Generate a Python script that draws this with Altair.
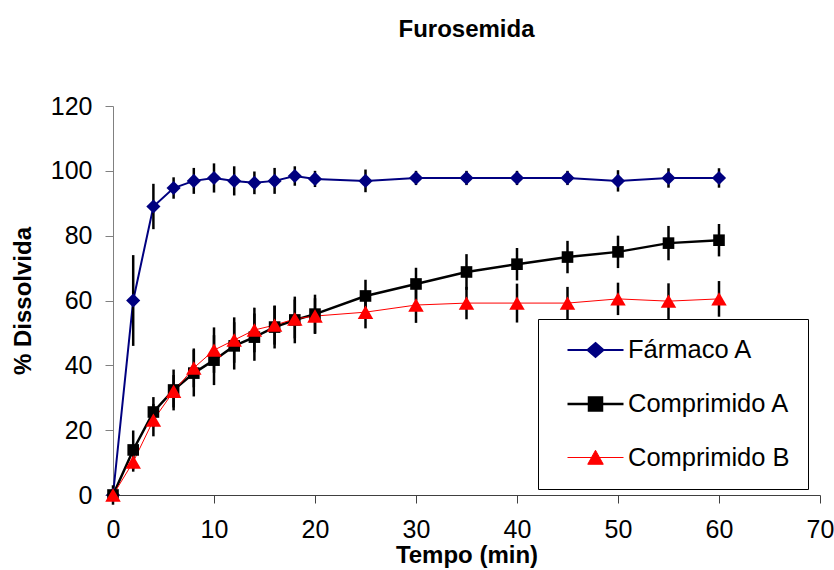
import altair as alt
import pandas as pd

# ---- data ----
time_min = [0, 2, 4, 6, 8, 10, 12, 14, 16, 18, 20, 25, 30, 35, 40, 45, 50, 55, 60]
farmaco_a = [0, 60, 89, 94.7, 96.9, 97.8, 96.9, 96.3, 96.9, 98.4, 97.5, 96.9, 97.8, 97.8, 97.8, 97.8, 96.9, 97.8, 97.8]
farmaco_a_sd = [0, 14, 7, 3.3, 4, 4.5, 4.5, 3.5, 4, 3, 2.5, 3.5, 2.2, 2.2, 2.2, 2.2, 3.3, 3, 3]
comprimido_a = [0, 13.9, 25.6, 32.4, 37.6, 41.6, 46, 48.7, 51.8, 54, 55.8, 61.4, 65.1, 68.8, 71.2, 73.4, 75, 77.7, 78.6]
comprimido_a_sd = [3, 6, 4.6, 6.3, 7.2, 7.7, 7.3, 7.3, 6.6, 7.2, 6, 5, 5, 5.5, 5, 5, 5, 5.3, 5]
comprimido_b = [0, 10.2, 23.1, 32, 39.2, 44.7, 47.8, 50.9, 52.4, 54.3, 55.2, 56.4, 58.6, 59.2, 59.2, 59.2, 60.5, 59.8, 60.5]
comprimido_b_sd = [0, 3, 5, 5, 6, 7, 7, 6.9, 6, 6, 5.5, 5, 5.5, 5, 6, 5, 5, 5.5, 5.5]

series_names = ["Fármaco A", "Comprimido A", "Comprimido B"]
series_colors = ["#000080", "#000000", "#FF0000"]
line_widths = [2, 2.5, 1]
point_shapes = ["diamond", "square", "triangle-up"]
point_sizes = [200, 135, 240]
legend_shapes = [
    "M-2.24,0H2.24M0,-0.56L0.64,0L0,0.56L-0.64,0Z",
    "M-2.24,0H2.24M-0.52,-0.52H0.52V0.52H-0.52Z",
    "M-2.24,0H2.24M0,-0.58L0.62,0.54H-0.62Z",
]

rows = []
for name, vals, sds in zip(series_names,
                           [farmaco_a, comprimido_a, comprimido_b],
                           [farmaco_a_sd, comprimido_a_sd, comprimido_b_sd]):
    for t, v, s in zip(time_min, vals, sds):
        rows.append({"series": name, "lg": name, "t": t, "v": v, "lo": v - s, "hi": v + s})
df = pd.DataFrame(rows)

FONT = "Liberation Sans"

x_enc = alt.X("t:Q", scale=alt.Scale(domain=[0, 70], nice=False),
              axis=alt.Axis(values=list(range(0, 71, 10)), title="Tempo (min)", grid=False,
                            labelFont=FONT, labelFontSize=25, labelColor="black", labelFlush=False,
                            labelPadding=14, tickSize=8, tickColor="#404040",
                            domainColor="#404040", titleFont=FONT, titleFontSize=24,
                            titleFontWeight="bold", titleColor="black", titlePadding=1))
y_enc = alt.Y("v:Q", scale=alt.Scale(domain=[0, 120], nice=False),
              axis=alt.Axis(values=list(range(0, 121, 20)), title="% Dissolvida", grid=False,
                            labelFont=FONT, labelFontSize=25, labelColor="black",
                            labelPadding=13, tickSize=8, tickColor="#808080",
                            domainColor="#808080", titleFont=FONT, titleFontSize=24,
                            titleFontWeight="bold", titleColor="black", titlePadding=15))

color_scale = alt.Scale(domain=series_names, range=series_colors)

base = alt.Chart(df)

errbars = base.mark_rule(color="black", strokeWidth=2.5).encode(
    x="t:Q", y="lo:Q", y2="hi:Q")

lines = base.mark_line().encode(
    x=x_enc, y=y_enc,
    color=alt.Color("series:N", scale=color_scale, legend=None),
    strokeWidth=alt.StrokeWidth("series:N", scale=alt.Scale(type="ordinal", domain=series_names, range=line_widths), legend=None),
)

points = base.mark_point(filled=True, opacity=1).encode(
    x="t:Q", y="v:Q",
    color=alt.Color("series:N", scale=color_scale, legend=None),
    shape=alt.Shape("series:N", scale=alt.Scale(domain=series_names, range=point_shapes), legend=None),
    size=alt.Size("series:N", scale=alt.Scale(type="ordinal", domain=series_names, range=point_sizes), legend=None),
)

leg = alt.Legend(orient="none", legendX=425, legendY=213, padding=17.5, rowPadding=26.5,
                 symbolOffset=26, labelOffset=18.5, labelFont=FONT, labelFontSize=25.5,
                 labelColor="black", strokeColor="black", fillColor="white",
                 symbolSize=625, title=None, labelLimit=0, symbolOpacity=1)

legend_layer = base.transform_filter("false").mark_point(filled=True, opacity=1).encode(
    x="t:Q", y="v:Q",
    fill=alt.Fill("lg:N", scale=alt.Scale(domain=series_names, range=series_colors), legend=leg),
    stroke=alt.Stroke("lg:N", scale=alt.Scale(domain=series_names, range=series_colors), legend=leg),
    shape=alt.Shape("lg:N", scale=alt.Scale(domain=series_names, range=legend_shapes), legend=leg),
    strokeWidth=alt.StrokeWidth("lg:N", scale=alt.Scale(type="ordinal", domain=series_names, range=line_widths), legend=leg),
)

chart = alt.layer(lines, errbars, points, legend_layer).resolve_scale(
    shape="independent", strokeWidth="independent", fill="independent",
    stroke="independent", size="independent", color="independent"
).properties(
    width=707, height=389,
    title=alt.TitleParams("Furosemida", font=FONT, fontSize=24, fontWeight="bold",
                          anchor="middle", offset=52, color="black"),
    autosize=alt.AutoSizeParams(type="none"),
    padding={"left": 113, "top": 106, "right": 14, "bottom": 75},
).configure_view(stroke=None)

chart.save("out.html", embed_options={"renderer": "svg", "actions": False})
